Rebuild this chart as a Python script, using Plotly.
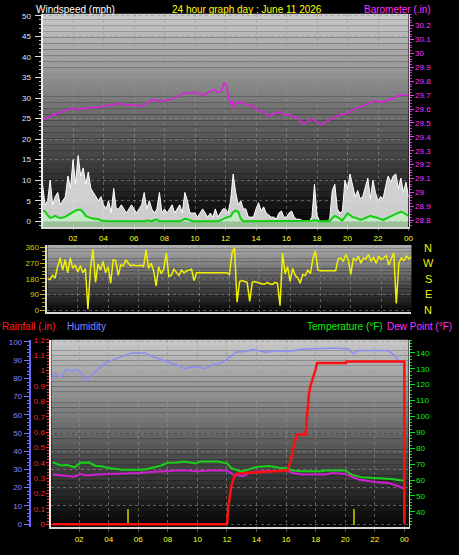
import plotly.graph_objects as go

# ---------------- DATA ----------------
# 10-minute samples over the day (hours)
wind_hours = [i / 6 for i in range(145)]

wind_gust = [
    9, 4, 5, 10, 4, 6,
    7, 4, 5, 6, 11, 8,
    15, 9, 16, 11, 13, 9,
    12, 8, 7, 6, 5, 6,
    4, 3, 5, 2, 8, 3,
    3, 4, 3, 2, 3, 4,
    3, 2, 3, 4, 7, 3,
    5, 3, 2, 3, 7, 2,
    3, 2, 3, 4, 2, 3,
    4, 2, 7, 5, 2, 2,
    2, 1, 2, 3, 2, 1,
    2, 1, 3, 1, 2, 3,
    3, 2, 5, 11.5, 7, 4,
    5, 3, 3, 1, 1, 1,
    3, 4.5, 2.5, 3.5, 2, 1.5,
    1, 1, 0.5, 2, 2.5, 1,
    1, 2, 2.5, 1, 0.5, 0.5,
    0.3, 0, 0, 0, 1, 9,
    1.5, 0, 0, 0, 0, 0.5,
    7.5, 9, 3, 2, 2.5, 10,
    8, 11.5, 9, 6, 7.5, 5.5,
    6, 8.5, 10.5, 5.5, 10, 7,
    5, 6, 5.5, 8.5, 11, 9.5,
    11, 11.5, 8, 10.5, 7, 9.5,
    6,
]

wind_avg = [
    2.6, 2.4, 1.5, 0.8, 1.0, 1.3,
    1.0, 0.8, 0.9, 1.1, 1.5, 1.9,
    2.3, 2.6, 2.8, 2.8, 2.2, 1.3,
    1.0, 0.8, 0.6, 0.6, 0.5, 0.2,
    0.1, 0, 0, 0, 0, 0,
    0, 0.1, 0, 0, 0, 0,
    0, 0, 0, 0, 0, 0.2,
    0.1, 0, 0.3, 0.4, 0, 0,
    0, 0, 0, 0, 0, 0,
    0, 0.2, 0.6, 0.5, 0.2, 0,
    0, 0, 0, 0, 0, 0,
    0, 0, 0, 0, 0.2, 0.6,
    0.8, 1.0, 1.2, 2.2, 2.6, 2.3,
    0.6, 0, 0, 0, 0, 0,
    0, 0, 0, 0, 0, 0,
    0, 0, 0, 0, 0, 0,
    0, 0, 0, 0, 0, 0,
    0, 0, 0, 0, 0.1, 0.3,
    0.1, 0, 0, 0, 0, 0,
    0.8, 1.3, 1.0, 0.6, 0.2, 1.0,
    1.9, 1.5, 1.0, 0.9, 0.7, 0.4,
    0.5, 0.8, 1.1, 1.3, 1.1, 1.0,
    0.8, 0.5, 0.3, 0.6, 1.0, 1.2,
    1.5, 1.8, 2.0, 2.3, 2.1, 1.6,
    1.3,
]

wind_dir = [
    180, 175, 200, 185, 250, 300,
    230, 290, 215, 300, 240, 260,
    220, 255, 215, 240, 5, 240,
    350, 160, 265, 230, 280, 215,
    250, 155, 290, 285, 200, 260,
    255, 290, 270, 255, 260, 255,
    255, 258, 252, 345, 240, 270,
    225, 140, 250, 210, 235, 330,
    195, 200, 235, 220, 200, 230,
    215, 225, 230, 235, 170, 215,
    215, 215, 215, 215, 215, 215,
    215, 215, 215, 215, 215, 215,
    205, 330, 360, 45, 165, 170,
    165, 160, 50, 160, 165, 160,
    155, 150, 150, 160, 150, 148,
    160, 155, 25, 330, 210, 250,
    165, 240, 200, 185, 155, 205,
    200, 230, 210, 296, 340, 230,
    226, 226, 226, 226, 226, 226,
    226, 294, 300, 280, 320, 290,
    205, 300, 285, 310, 270, 300,
    295, 320, 280, 305, 270, 310,
    290, 300, 315, 260, 300, 330,
    38, 270, 300, 285, 310, 295,
    305,
]

baro_hours = [0.0, 0.25, 0.5, 0.75, 1.0, 1.25, 1.5, 1.75, 2.0, 2.5, 3.0, 3.5, 4.0, 4.5,
              5.0, 5.5, 6.0, 6.5, 7.0, 7.25, 7.5, 8.0, 8.5, 9.0, 9.5, 9.75, 10.0, 10.5,
              10.75, 11.0, 11.25, 11.5, 11.75, 11.9, 12.05, 12.2, 12.3, 12.45, 12.55, 12.7,
              12.9, 13.1, 13.4, 13.7, 14.0, 14.2, 14.5, 14.85, 15.2, 15.5, 15.8, 16.1, 16.4,
              16.8, 17.1, 17.4, 17.7, 18.0, 18.2, 18.5, 18.75, 19.0, 19.3, 19.6, 20.0, 20.3,
              20.7, 21.1, 21.5, 21.8, 22.2, 22.6, 22.9, 23.2, 23.5, 23.8, 24.0]
baro = [29.52, 29.53, 29.55, 29.56, 29.57, 29.58, 29.59, 29.60, 29.60, 29.60, 29.61, 29.61,
        29.62, 29.63, 29.64, 29.63, 29.63, 29.62, 29.65, 29.67, 29.66, 29.66, 29.67, 29.70,
        29.72, 29.71, 29.72, 29.70, 29.71, 29.73, 29.74, 29.72, 29.73, 29.79, 29.77, 29.70,
        29.64, 29.66, 29.60, 29.65, 29.64, 29.65, 29.63, 29.63, 29.60, 29.59, 29.58, 29.55,
        29.57, 29.58, 29.56, 29.56, 29.55, 29.53, 29.49, 29.51, 29.53, 29.51, 29.49, 29.50,
        29.52, 29.53, 29.55, 29.56, 29.57, 29.59, 29.61, 29.63, 29.65, 29.66, 29.65, 29.66,
        29.67, 29.69, 29.70, 29.70, 29.705]

rain_hours = [0.2, 12.0, 12.1, 12.2, 12.3, 12.45, 12.65, 13.5, 14.5, 16.0, 16.1, 16.3, 16.5,
              16.65, 16.76, 17.32, 17.43, 17.55, 17.65, 17.75, 17.87, 18.0, 18.1, 20.05,
              20.1, 24.0, 24.0]
rainfall = [0, 0, 0.12, 0.2, 0.25, 0.30, 0.33, 0.335, 0.34, 0.345, 0.35, 0.41, 0.5, 0.56,
            0.585, 0.585, 0.72, 0.85, 0.90, 0.93, 0.96, 1.01, 1.05, 1.05, 1.06, 1.06, 0]

rate_hours = [5.35, 20.66]
rain_rate = [0.1, 0.1]

hum_hours = [0.1, 0.33, 0.78, 1.1, 1.5, 1.78, 2.1, 2.45, 2.9, 3.4, 3.8, 4.3, 4.7, 5.1, 5.57,
             6.0, 6.46, 6.9, 7.35, 7.8, 8.25, 8.7, 9.14, 9.5, 10.0, 10.47, 10.8, 11.1, 11.6,
             12.03, 12.6, 13.2, 13.75, 14.2, 14.64, 15.2, 15.8, 16.43, 17.0, 17.6, 18.2,
             18.9, 19.55, 20.2, 20.55, 20.88, 21.4, 22.0, 22.5, 22.9, 23.34, 23.79]
humidity = [78.6, 83.2, 80.5, 85, 84, 85, 83.5, 78.6, 82.2, 85.5, 88.6, 90.2, 91.3, 92.5, 94,
            94, 94, 92.2, 91, 89.5, 88.5, 87.1, 85.3, 86, 86.4, 85.3, 86.5, 87.7, 88.5, 90.4,
            94.4, 94.8, 95.8, 95.3, 94.4, 95, 95, 95.1, 96, 96.2, 96.6, 96.6, 96.6, 96.2,
            93.5, 95.3, 95.3, 95.3, 95.3, 95.3, 92.5, 87.7]

temp_hours = [0.22, 0.78, 1.2, 1.67, 2.1, 2.67, 3.1, 3.6, 4.0, 4.5, 4.9, 5.5, 6.2, 6.6, 7.1,
              7.5, 8.0, 8.6, 9.14, 9.5, 9.9, 10.2, 10.8, 11.4, 12.03, 12.3, 12.86, 13.3,
              13.97, 14.86, 15.53, 16.1, 16.43, 17.1, 17.8, 18.4, 18.65, 19.3, 20.0, 20.44,
              21.1, 22.0, 23.1, 24.0]
temperature = [71.1, 69.2, 69.5, 68.0, 70.8, 71.0, 69.0, 68.5, 67.5, 67.0, 66.5, 66.5, 66.5,
               67.0, 68.3, 69.0, 70.8, 71.0, 71.7, 71.0, 70.4, 71.7, 71.7, 71.7, 70.3, 67.5,
               65.5, 66.0, 68.2, 68.8, 67.7, 67.3, 66.0, 65.5, 65.5, 65.5, 66.0, 66.0, 66.0,
               63.4, 61.7, 61.3, 60.7, 59.6]

dew_hours = [0.22, 1.1, 1.67, 2.1, 2.45, 3.34, 4.5, 5.6, 6.0, 6.9, 7.8, 8.9, 10.0, 11.1,
             12.03, 12.4, 13.1, 13.5, 14.2, 15.3, 16.1, 16.43, 17.1, 18.65, 19.1, 20.0, 20.3,
             20.9, 22.0, 22.9, 23.6, 24.0]
dew_point = [63.4, 62.4, 62.1, 63.8, 62.8, 63.4, 63.8, 63.8, 64.4, 65.0, 65.5, 66.1, 65.5,
             66.1, 65.9, 63.4, 62.4, 64.4, 65.5, 65.5, 65.9, 64.4, 63.4, 63.4, 64.4, 63.8,
             62.5, 60.3, 58.8, 58.2, 56.1, 54.5]

hour_ticks = [2, 4, 6, 8, 10, 12, 14, 16, 18, 20, 22, 24]
hour_labels = ["02", "04", "06", "08", "10", "12", "14", "16", "18", "20", "22", "00"]
wind_ticks = [0, 5, 10, 15, 20, 25, 30, 35, 40, 45, 50]
baro_ticks = [28.8, 28.9, 29.0, 29.1, 29.2, 29.3, 29.4, 29.5, 29.6, 29.7, 29.8, 29.9, 30.0, 30.1, 30.2]
baro_labels = ["28.8", "28.9", "29", "29.1", "29.2", "29.3", "29.4", "29.5", "29.6", "29.7",
               "29.8", "29.9", "30", "30.1", "30.2"]
dir_ticks = [0, 90, 180, 270, 360]
compass = ["N", "E", "S", "W", "N"]
rain_ticks = [0, 0.1, 0.2, 0.3, 0.4, 0.5, 0.6, 0.7, 0.8, 0.9, 1.0, 1.1, 1.2]
rain_labels = ["0", "0.1", "0.2", "0.3", "0.4", "0.5", "0.6", "0.7", "0.8", "0.9", "1", "1.1", "1.2"]
hum_ticks = [0, 10, 20, 30, 40, 50, 60, 70, 80, 90, 100]
temp_ticks = [40, 50, 60, 70, 80, 90, 100, 110, 120, 130, 140]

# ---------------- LAYOUT HELPERS ----------------
W, H = 459, 555
FONT = "Liberation Sans, Arial, sans-serif"


def px(x):
    return x / W


def py(y):
    return 1 - y / H


TOP = (43, 413, 10, 226)
DIR = (48, 416, 244, 312)
BOT = (52, 413, 340, 530)

WIND_RANGE = [-1.44, 50.48]

fig = go.Figure()

shapes = []


def gradient(box, top, bottom, n=36):
    x0, x1, y0, y1 = box
    for k in range(n):
        f = k / (n - 1)
        c = int(round(top + (bottom - top) * f))
        ya = y0 + (y1 - y0) * k / n
        yb = y0 + (y1 - y0) * (k + 1) / n
        shapes.append(dict(type="rect", xref="paper", yref="paper", layer="below",
                           x0=px(x0), x1=px(x1), y0=py(yb), y1=py(ya),
                           line=dict(width=0), fillcolor=f"rgb({c},{c},{c})"))


gradient(TOP, 200, 4)
gradient(DIR, 172, 10, 20)
gradient(BOT, 198, 6)

# ---------------- TRACES ----------------
# Top panel: wind
fig.add_trace(go.Scatter(x=wind_hours, y=wind_gust, mode="lines", xaxis="x", yaxis="y",
                         line=dict(color="#ffffff", width=1),
                         fill="tozeroy", fillcolor="rgba(232,232,232,0.88)"))
fig.add_trace(go.Scatter(x=wind_hours, y=[WIND_RANGE[0]] * len(wind_hours), mode="lines",
                         xaxis="x", yaxis="y", line=dict(width=0), hoverinfo="skip"))
fig.add_trace(go.Scatter(x=wind_hours, y=wind_avg, mode="lines", xaxis="x", yaxis="y",
                         line=dict(color="#10d010", width=2),
                         fill="tonexty", fillcolor="rgba(195,240,195,0.8)"))
fig.add_trace(go.Scatter(x=baro_hours, y=baro, mode="lines", xaxis="x", yaxis="y2",
                         line=dict(color="#e020e0", width=1.5)))

# Wind direction
fig.add_trace(go.Scatter(x=wind_hours, y=wind_dir, mode="lines", xaxis="x2", yaxis="y3",
                         line=dict(color="#f0f000", width=1.5)))

# Bottom panel
fig.add_trace(go.Scatter(x=hum_hours, y=humidity, mode="lines", xaxis="x3", yaxis="y5",
                         line=dict(color="#8c8cf4", width=1.5)))
fig.add_trace(go.Scatter(x=temp_hours, y=temperature, mode="lines", xaxis="x3", yaxis="y4",
                         line=dict(color="#18d018", width=2)))
fig.add_trace(go.Scatter(x=dew_hours, y=dew_point, mode="lines", xaxis="x3", yaxis="y4",
                         line=dict(color="#d020d0", width=2)))
fig.add_trace(go.Bar(x=rate_hours, y=rain_rate, xaxis="x3", yaxis="y6",
                     marker=dict(color="#a0a000", line=dict(width=0)), width=0.12))
fig.add_trace(go.Scatter(x=rain_hours, y=rainfall, mode="lines", xaxis="x3", yaxis="y6",
                         line=dict(color="#ff1010", width=2.5)))

GRID = "rgba(150,150,150,0.55)"
LINE = "#d8d8d8"
tick_font = dict(family=FONT, size=8)

fig.update_layout(
    width=W, height=H, margin=dict(l=0, r=0, t=0, b=0),
    paper_bgcolor="black", plot_bgcolor="rgba(0,0,0,0)", showlegend=False,
    font=dict(family=FONT, size=8, color="white"),
    bargap=0,
    shapes=shapes,
    xaxis=dict(domain=[px(TOP[0]), px(TOP[1])], range=[0, 24], anchor="y",
               tickvals=hour_ticks, ticktext=hour_labels,
               tickfont=dict(tick_font, color="#ffff20"),
               ticks="outside", ticklen=2, tickcolor="#505050", ticklabelstandoff=0,
               showgrid=True, gridcolor=GRID, griddash="dot", gridwidth=1,
               showline=True, linecolor=LINE, linewidth=2, zeroline=False),
    yaxis=dict(domain=[py(TOP[3]), py(TOP[2])], range=WIND_RANGE, anchor="x",
               tickvals=wind_ticks, tickfont=dict(tick_font, color="#dce6ff"),
               ticks="outside", ticklen=6, tickcolor="#e0e0e0", ticklabelstandoff=2,
               minor=dict(dtick=1, ticks="outside", ticklen=2, tickcolor="#c0c0c0"),
               showgrid=True, gridcolor=GRID, griddash="dot",
               showline=True, linecolor="#f0f0f0", linewidth=2, zeroline=False),
    yaxis2=dict(overlaying="y", side="right", anchor="x", range=[28.75, 30.285],
                tickvals=baro_ticks, ticktext=baro_labels,
                tickfont=dict(tick_font, color="#ff30ff"),
                ticks="outside", ticklen=4, tickcolor="#ff30ff",
                minor=dict(dtick=0.02, ticks="outside", ticklen=2, tickcolor="#e020e0"),
                showgrid=False, showline=True, linecolor=LINE, linewidth=1, zeroline=False),
    xaxis2=dict(domain=[px(DIR[0]), px(DIR[1])], range=[0, 24], anchor="y3",
                showticklabels=False, tickvals=hour_ticks, showgrid=True, gridcolor=GRID,
                griddash="dot", showline=True, linecolor=LINE, linewidth=2, zeroline=False),
    yaxis3=dict(domain=[py(DIR[3]), py(DIR[2])], range=[-11.4, 375.4], anchor="x2",
                tickvals=dir_ticks, tickfont=dict(tick_font, color="#d0d000"),
                ticks="outside", ticklen=5, tickcolor="#b0b000",
                minor=dict(dtick=22.5, ticks="outside", ticklen=3, tickcolor="#a0a000"),
                showgrid=True, gridcolor=GRID, griddash="dot",
                showline=True, linecolor=LINE, linewidth=2, zeroline=False),
    xaxis3=dict(domain=[px(BOT[0]), px(BOT[1])], range=[0.127, 24.28], anchor="y4",
                tickvals=hour_ticks, ticktext=hour_labels,
                tickfont=dict(tick_font, color="#ffff20"),
                ticks="outside", ticklen=3, tickcolor="#505050", ticklabelstandoff=0,
                showgrid=True, gridcolor=GRID, griddash="dot",
                showline=True, linecolor=LINE, linewidth=2, zeroline=False),
    yaxis4=dict(domain=[py(BOT[3]), py(BOT[2])], range=[30.25, 148.26], anchor="x3",
                side="right", tickvals=temp_ticks, tickfont=dict(tick_font, color="#10f010"),
                ticks="outside", ticklen=5, tickcolor="#10e010",
                minor=dict(dtick=2, ticks="outside", ticklen=2, tickcolor="#10d010"),
                showgrid=False, showline=True, linecolor=LINE, linewidth=1, zeroline=False),
    yaxis5=dict(overlaying="y4", anchor="free", position=px(30), side="left",
                range=[-1.79, 101.25], tickvals=hum_ticks,
                tickfont=dict(tick_font, color="#8484ff"),
                ticks="outside", ticklen=5, tickcolor="#7878ff",
                minor=dict(dtick=2, ticks="outside", ticklen=2, tickcolor="#7070ff"),
                showgrid=True, gridcolor=GRID, griddash="dot",
                showline=True, linecolor="#6a6aff", linewidth=2, zeroline=False),
    yaxis6=dict(overlaying="y4", anchor="x3", side="left", range=[-0.0193, 1.201],
                tickvals=rain_ticks, ticktext=rain_labels,
                tickfont=dict(tick_font, color="#ff2020"),
                ticks="outside", ticklen=3, tickcolor="#ff2020",
                minor=dict(dtick=0.02, ticks="outside", ticklen=2, tickcolor="#ff3030"),
                showgrid=False, showline=True, linecolor="#f0f0f0", linewidth=2, zeroline=False),
)

annotations = []


def label(text, x, y, color, size=10, anchor="left"):
    annotations.append(dict(text=text, x=px(x), y=py(y), xref="paper", yref="paper",
                            xanchor=anchor, yanchor="middle", showarrow=False,
                            font=dict(family=FONT, size=size, color=color)))


label("Windspeed (mph)", 34, 6, "#ffffff")
label("24 hour graph day : June 11 2026", 250, 6, "#ffff00", anchor="center")
label("Barometer (.in)", 366, 6, "#ff30ff")
label("Rainfall (.in)", 0, 327, "#ff2020")
label("Humidity", 66, 327, "#8484ff")
label("Temperature (°F)", 308, 327, "#10f010")
label("Dew Point (°F)", 389, 327, "#ff30ff")

for val, letter in zip(dir_ticks, compass):
    annotations.append(dict(text=letter, x=px(433), y=val, xref="paper", yref="y3",
                            xanchor="center", yanchor="middle", showarrow=False,
                            font=dict(family=FONT, size=11, color="#f0f000")))

fig.update_layout(annotations=annotations)

fig.write_html("out.html", config={"displayModeBar": False},
               post_script="document.body.style.margin='0';document.body.style.background='black';")
